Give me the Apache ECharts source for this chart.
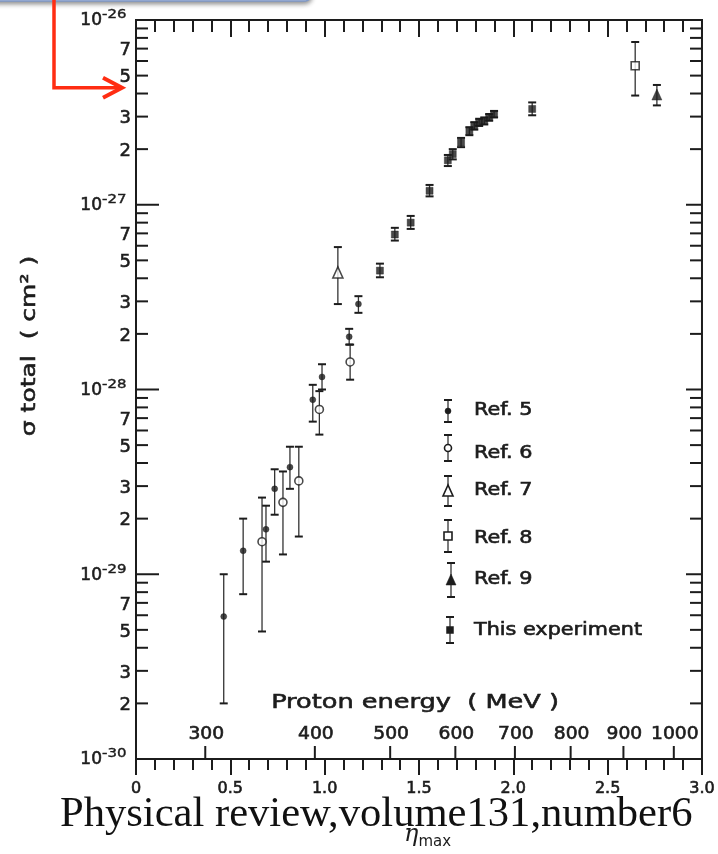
<!DOCTYPE html>
<html>
<head>
<meta charset="utf-8">
<title>Total cross section versus eta max</title>
<script src="https://cdn.jsdelivr.net/npm/echarts@6.0.0/dist/echarts.min.js"></script>
<style>
  html, body { margin: 0; padding: 0; background: #ffffff; }
  #chart { width: 718px; height: 854px; }
</style>
</head>
<body>
<div id="chart"></div>
<script>
// Total cross section sigma (cm^2) against eta_max, with error bars.

// Ref. 5
const ref5Eta   = [0.465, 0.568, 0.689, 0.735, 0.816, 0.937, 0.986, 1.130, 1.179];
const ref5Sigma = [5.9e-30, 1.34e-29, 1.75e-29, 2.9e-29, 3.8e-29, 8.8e-29, 1.17e-28, 1.93e-28, 2.9e-28];
const ref5Low   = [2.0e-30, 7.8e-30, 1.17e-29, 2.1e-29, 2.9e-29, 6.7e-29, 1.0e-28, 1.75e-28, 2.6e-28];
const ref5High  = [1.0e-29, 2.0e-29, 2.35e-29, 3.7e-29, 4.9e-29, 1.06e-28, 1.37e-28, 2.13e-28, 3.2e-28];

// Ref. 6
const ref6Eta   = [0.668, 0.779, 0.863, 0.972, 1.135];
const ref6Sigma = [1.5e-29, 2.45e-29, 3.2e-29, 7.8e-29, 1.41e-28];
const ref6Low   = [4.9e-30, 1.28e-29, 1.6e-29, 5.7e-29, 1.13e-28];
const ref6High  = [2.6e-29, 3.6e-29, 4.9e-29, 9.8e-29, 1.75e-28];

// Ref. 7
const ref7Eta   = [1.070];
const ref7Sigma = [4.3e-28];
const ref7Low   = [2.9e-28];
const ref7High  = [5.9e-28];

// Ref. 8
const ref8Eta   = [2.646];
const ref8Sigma = [5.65e-27];
const ref8Low   = [3.9e-27];
const ref8High  = [7.6e-27];

// Ref. 9
const ref9Eta   = [2.761];
const ref9Sigma = [3.95e-27];
const ref9Low   = [3.45e-27];
const ref9High  = [4.45e-27];

// This experiment
const expEta   = [1.293, 1.372, 1.456, 1.556, 1.653, 1.679, 1.723, 1.767, 1.793, 1.819, 1.846, 1.872, 1.898, 2.100];
const expSigma = [4.4e-28, 6.9e-28, 8.0e-28, 1.19e-27, 1.74e-27, 1.88e-27, 2.17e-27, 2.5e-27, 2.67e-27, 2.79e-27, 2.84e-27, 2.97e-27, 3.09e-27, 3.3e-27];
const expLow   = [4.05e-28, 6.4e-28, 7.4e-28, 1.11e-27, 1.62e-27, 1.76e-27, 2.05e-27, 2.38e-27, 2.55e-27, 2.67e-27, 2.72e-27, 2.85e-27, 2.97e-27, 3.05e-27];
const expHigh  = [4.8e-28, 7.5e-28, 8.7e-28, 1.28e-27, 1.86e-27, 2.0e-27, 2.3e-27, 2.63e-27, 2.8e-27, 2.92e-27, 2.97e-27, 3.1e-27, 3.22e-27, 3.58e-27];

// Legend entries
const legendNames = ['Ref. 5', 'Ref. 6', 'Ref. 7', 'Ref. 8', 'Ref. 9', 'This experiment'];

// Proton kinetic energies (MeV) marked on the secondary scale
const energyTicks = [300, 400, 500, 600, 700, 800, 900, 1000];

// Log axis decades and the in-between tick multipliers
const yDecades = [-30, -29, -28, -27, -26];
const yMinorMultipliers = [2, 3, 4, 5, 6, 7, 8, 9];
const yLabelledMultipliers = [2, 3, 5, 7];

// Horizontal reference level (cm^2)
const referenceLevel = 4.3e-27;

const xMin = 0, xMax = 3;
const yMin = 1e-30, yMax = 1e-26;
const ink = '#1c1c1c';
const fontSans = '"DejaVu Sans", sans-serif';
// slight outline so the lettering reads as heavy as drafted lettering
const heavy = { stroke: ink, lineWidth: 0.6 };

// pp -> pp pi0 : maximum centre-of-mass pion momentum in units of m_pi c
function etaFromEnergy(T) {
  const mp = 938.272, mpi = 134.977;
  const s = 4 * mp * mp + 2 * mp * T;
  const e = (s + mpi * mpi - 4 * mp * mp) / (2 * Math.sqrt(s));
  return Math.sqrt(e * e - mpi * mpi) / mpi;
}

// tick list for the log axis: [x, value, kind, mantissa]
const yTickData = [];
yDecades.forEach((d, i) => {
  yTickData.push([xMin, Math.pow(10, d), 0, 1]);
  if (i < yDecades.length - 1) {
    yMinorMultipliers.forEach(m => {
      yTickData.push([xMin, m * Math.pow(10, d), yLabelledMultipliers.indexOf(m) >= 0 ? 1 : 2, m]);
    });
  }
});

function errorBarSeries(name, eta, low, high) {
  return {
    type: 'custom',
    name: name + ' error',
    z: 3,
    silent: true,
    data: eta.map((e, i) => [e, low[i], high[i]]),
    encode: { x: 0, y: [1, 2] },
    renderItem(params, api) {
      const top = api.coord([api.value(0), api.value(2)]);
      const bot = api.coord([api.value(0), api.value(1)]);
      const cap = 4;
      return {
        type: 'group',
        children: [
          { type: 'line', shape: { x1: top[0], y1: top[1], x2: bot[0], y2: bot[1] }, style: { stroke: '#333', lineWidth: 1.3 } },
          { type: 'line', shape: { x1: top[0] - cap, y1: top[1], x2: top[0] + cap, y2: top[1] }, style: { stroke: ink, lineWidth: 2 } },
          { type: 'line', shape: { x1: bot[0] - cap, y1: bot[1], x2: bot[0] + cap, y2: bot[1] }, style: { stroke: ink, lineWidth: 2 } }
        ]
      };
    }
  };
}

function pointSeries(name, eta, sigma, symbol, size, filled) {
  return {
    type: 'scatter',
    name: name,
    z: 4,
    silent: true,
    symbol: symbol,
    symbolSize: size,
    itemStyle: filled
      ? { color: ink, borderColor: ink, borderWidth: 0.5 }
      : { color: '#ffffff', borderColor: ink, borderWidth: 1.6 },
    data: eta.map((e, i) => [e, sigma[i]])
  };
}

const yScaleSeries = {
  type: 'custom',
  name: 'y scale',
  silent: true,
  z: 5,
  data: yTickData,
  encode: { x: 0, y: 1 },
  renderItem(params, api) {
    const v = api.value(1), kind = api.value(2), mant = api.value(3);
    const L = api.coord([xMin, v]);
    const R = api.coord([xMax, v]);
    const y = L[1];
    const lenL = kind === 0 ? 23 : 12;
    const lenR = kind === 0 ? 16 : 12;
    const children = [
      { type: 'line', shape: { x1: L[0], y1: y, x2: L[0] + lenL, y2: y }, style: { stroke: ink, lineWidth: 2 } },
      { type: 'line', shape: { x1: R[0] - lenR, y1: y, x2: R[0], y2: y }, style: { stroke: ink, lineWidth: 2 } }
    ];
    if (kind === 0) {
      const exp = Math.round(Math.log10(v));
      children.push({ type: 'text', x: L[0] - 34, y: y + 1,
        style: Object.assign({ text: '10', align: 'right', verticalAlign: 'middle', fontSize: 17, fontFamily: fontSans, fill: ink }, heavy) });
      children.push({ type: 'text', x: L[0] - 34, y: y - 5, scaleX: 1.15,
        style: Object.assign({ text: String(exp), align: 'left', verticalAlign: 'middle', fontSize: 13, fontFamily: fontSans, fill: ink }, { stroke: ink, lineWidth: 0.4 }) });
    } else if (kind === 1) {
      children.push({ type: 'text', x: L[0] - 5, y: y + 2,
        style: Object.assign({ text: String(mant), align: 'right', verticalAlign: 'middle', fontSize: 18, fontFamily: fontSans, fill: ink }, heavy) });
    }
    return { type: 'group', children };
  }
};

const energyScaleSeries = {
  type: 'custom',
  name: 'energy scale',
  silent: true,
  z: 5,
  data: energyTicks.map(T => [etaFromEnergy(T), yMin, T]),
  encode: { x: 0, y: 1 },
  renderItem(params, api) {
    const p = api.coord([api.value(0), yMin]);
    return {
      type: 'group',
      children: [
        { type: 'line', shape: { x1: p[0], y1: p[1], x2: p[0], y2: p[1] - 13 }, style: { stroke: ink, lineWidth: 2 } },
        { type: 'text', x: p[0] + 1, y: p[1] - 24, scaleX: 1.1,
          style: Object.assign({ text: String(api.value(2)), align: 'center', verticalAlign: 'middle', fontSize: 17, fontFamily: fontSans, fill: ink }, heavy) }
      ]
    };
  }
};

const chart = echarts.init(document.getElementById('chart'), null, { renderer: 'canvas' });

chart.setOption({
  animation: false,
  backgroundColor: '#ffffff',
  grid: { left: 136, right: 12, top: 20, bottom: 95, show: true, borderColor: ink, borderWidth: 2, backgroundColor: 'transparent' },
  xAxis: [
    {
      type: 'value', min: xMin, max: xMax, interval: 0.5, position: 'bottom',
      axisLine: { show: true, lineStyle: { color: ink, width: 2 } },
      axisTick: { show: true, inside: false, length: 16, lineStyle: { color: ink, width: 2 } },
      minorTick: { show: true, splitNumber: 5, length: 11, lineStyle: { color: ink, width: 2 } },
      axisLabel: { show: true, margin: 22, fontSize: 16, fontFamily: fontSans, color: ink,
        textBorderColor: ink, textBorderWidth: 0.6,
        formatter: v => (v === 0 ? '0' : v.toFixed(1)) },
      splitLine: { show: false }
    },
    {
      type: 'value', min: xMin, max: xMax, interval: 0.5, position: 'top',
      axisLine: { show: true, lineStyle: { color: ink, width: 2 } },
      axisTick: { show: true, inside: true, length: 17, lineStyle: { color: ink, width: 2 } },
      minorTick: { show: true, splitNumber: 5, length: 12, lineStyle: { color: ink, width: 2 } },
      axisLabel: { show: false },
      splitLine: { show: false }
    }
  ],
  yAxis: [
    {
      type: 'log', logBase: 10, min: yMin, max: yMax, position: 'left',
      axisLine: { show: true, lineStyle: { color: ink, width: 2 } },
      axisTick: { show: false },
      axisLabel: { show: false },
      splitLine: { show: false }
    }
  ],
  series: [
    yScaleSeries,
    energyScaleSeries,
    errorBarSeries('Ref. 5', ref5Eta, ref5Low, ref5High),
    errorBarSeries('Ref. 6', ref6Eta, ref6Low, ref6High),
    errorBarSeries('Ref. 7', ref7Eta, ref7Low, ref7High),
    errorBarSeries('Ref. 8', ref8Eta, ref8Low, ref8High),
    errorBarSeries('Ref. 9', ref9Eta, ref9Low, ref9High),
    errorBarSeries('This experiment', expEta, expLow, expHigh),
    pointSeries('Ref. 5', ref5Eta, ref5Sigma, 'circle', 6, true),
    pointSeries('Ref. 6', ref6Eta, ref6Sigma, 'circle', 8, false),
    pointSeries('Ref. 7', ref7Eta, ref7Sigma, 'triangle', [10, 11], false),
    pointSeries('Ref. 8', ref8Eta, ref8Sigma, 'rect', 8, false),
    pointSeries('Ref. 9', ref9Eta, ref9Sigma, 'triangle', [10, 11], true),
    Object.assign(pointSeries('This experiment', expEta, expSigma, 'rect', 7, true), {
      markLine: {
        silent: true, symbol: 'none', animation: false,
        label: { show: false },
        lineStyle: { color: '#ff8000', width: 2.5, type: 'solid' },
        data: [{ yAxis: referenceLevel }]
      }
    })
  ]
});

// ---- legend, axis titles and annotations ----
function legendSymbol(i, cx, cy) {
  const st = { fill: '#ffffff', stroke: ink, lineWidth: 1.6 };
  const fl = { fill: ink, stroke: ink, lineWidth: 0.5 };
  switch (i) {
    case 0: return { type: 'circle', shape: { cx, cy, r: 3 }, style: fl, z: 10 };
    case 1: return { type: 'circle', shape: { cx, cy, r: 3.5 }, style: st, z: 10 };
    case 2: return { type: 'polygon', shape: { points: [[cx, cy - 6], [cx - 5, cy + 5], [cx + 5, cy + 5]] }, style: st, z: 10 };
    case 3: return { type: 'rect', shape: { x: cx - 4, y: cy - 4, width: 8, height: 8 }, style: st, z: 10 };
    case 4: return { type: 'polygon', shape: { points: [[cx, cy - 6], [cx - 5, cy + 5], [cx + 5, cy + 5]] }, style: fl, z: 10 };
    default: return { type: 'rect', shape: { x: cx - 3.5, y: cy - 3.5, width: 7, height: 7 }, style: fl, z: 10 };
  }
}

const legendSymbolY = [411, 448, 491, 536, 580, 630];
const legendTextY   = [411, 454, 491, 539, 580, 631];
const legendBarHalf = [11, 13, 15, 16, 17, 13];
const legendX = [448, 448, 448, 448, 451, 450];

const graphics = [];
legendNames.forEach((name, i) => {
  const cx = legendX[i], cy = legendSymbolY[i], h = legendBarHalf[i];
  graphics.push({ type: 'line', shape: { x1: cx, y1: cy - h, x2: cx, y2: cy + h }, style: { stroke: '#333', lineWidth: 1.3 }, z: 9 });
  graphics.push({ type: 'line', shape: { x1: cx - 4, y1: cy - h, x2: cx + 4, y2: cy - h }, style: { stroke: ink, lineWidth: 2 }, z: 9 });
  graphics.push({ type: 'line', shape: { x1: cx - 4, y1: cy + h, x2: cx + 4, y2: cy + h }, style: { stroke: ink, lineWidth: 2 }, z: 9 });
  graphics.push(legendSymbol(i, cx, cy));
  graphics.push({ type: 'text', x: 474, y: legendTextY[i], scaleX: 1.22, z: 10,
    style: Object.assign({ text: name, fontSize: 17, fontFamily: fontSans, fill: ink, align: 'left', verticalAlign: 'middle' }, heavy) });
});

// secondary scale title
graphics.push({ type: 'text', x: 415, y: 703, scaleX: 1.28, z: 10,
  style: Object.assign({ text: 'Proton energy  ( MeV )', fontSize: 20, fontFamily: fontSans, fill: ink, align: 'center', verticalAlign: 'middle' }, heavy) });

// y axis title
graphics.push({ type: 'text', x: 30, y: 346, rotation: Math.PI / 2, scaleX: 1.25, z: 10,
  style: Object.assign({ text: 'σ total  ( cm² )', fontSize: 20, fontFamily: fontSans, fill: ink, align: 'center', verticalAlign: 'middle' }, heavy) });

// x axis title
graphics.push({ type: 'text', x: 404, y: 838, z: 10,
  style: {
    text: '{e|η}{s|max}',
    fill: ink,
    align: 'left', verticalAlign: 'middle',
    rich: {
      e: { fontSize: 24, fontFamily: '"DejaVu Serif", serif', fontStyle: 'italic', fill: ink, padding: [0, 0, 6, 0] },
      s: { fontSize: 15, fontFamily: fontSans, fill: ink, padding: [8, 0, 0, 0] }
    }
  } });

// citation caption
graphics.push({ type: 'text', x: 60, y: 815, z: 20,
  style: { text: 'Physical review,volume131,number6', fontSize: 42.6, fontFamily: '"Liberation Serif", serif', fill: '#111111', align: 'left', verticalAlign: 'middle' } });

// callout box edge at the top
graphics.push({ type: 'rect', z: 30, shape: { x: -10, y: -30, width: 321, height: 31, r: 6 },
  style: { fill: '#dfe7f5', stroke: '#7d98c9', lineWidth: 1.5, shadowBlur: 5, shadowOffsetY: 2, shadowColor: 'rgba(0,0,0,0.45)' } });

// arrow pointing at the reference level
const refY = chart.convertToPixel({ yAxisIndex: 0 }, referenceLevel);
graphics.push({ type: 'polyline', z: 31, shape: { points: [[54, 0], [54, refY], [119, refY]] },
  style: { stroke: '#ff2d12', lineWidth: 3.5, fill: null, lineJoin: 'miter' } });
graphics.push({ type: 'polyline', z: 31, shape: { points: [[103, refY - 10], [122, refY], [103, refY + 10]] },
  style: { stroke: '#ff2d12', lineWidth: 4, fill: null, lineJoin: 'miter' } });

chart.setOption({ graphic: graphics });
</script>
</body>
</html>
